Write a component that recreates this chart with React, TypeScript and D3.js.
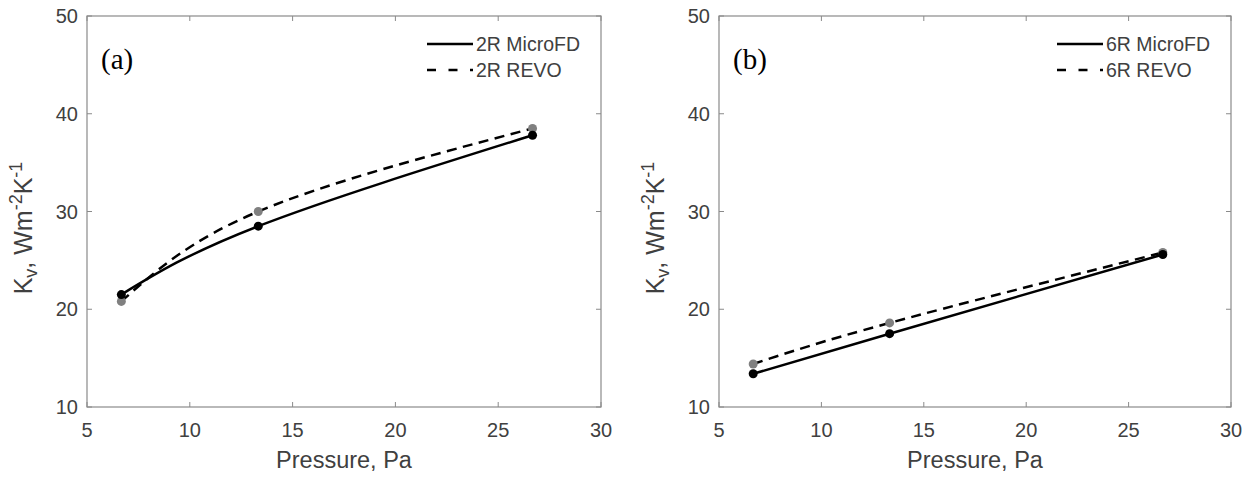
import React from 'react';
import * as d3 from 'd3';

// pressure points (Pa) shared by every series
const pressures = [6.67, 13.33, 26.67];

const microFD2R = [21.5, 28.5, 37.8];
const revo2R = [20.8, 30.0, 38.5];
const microFD6R = [13.4, 17.5, 25.6];
const revo6R = [14.4, 18.6, 25.8];

const xTicks = [5, 10, 15, 20, 25, 30];
const yTicks = [10, 20, 30, 40, 50];

const W = 1254;
const H = 479;
const top = 16;
const bottom = 407;

const textColor = '#404040';
const boxColor = '#8a8a8a';

type PanelProps = {
  left: number;
  right: number;
  tag: string;
  name: string;
  micro: number[];
  revo: number[];
};

const Panel = ({ left, right, tag, name, micro, revo }: PanelProps) => {
  const x = d3.scaleLinear().domain([5, 30]).range([left, right]);
  const y = d3.scaleLinear().domain([10, 50]).range([bottom, top]);

  const line = d3.line<[number, number]>()
    .x(d => x(d[0]))
    .y(d => y(d[1]))
    .curve(d3.curveNatural);

  const microPts = pressures.map((p, i) => [p, micro[i]] as [number, number]);
  const revoPts = pressures.map((p, i) => [p, revo[i]] as [number, number]);

  const legX = right - 174;
  const tick = 5;

  return (
    <g fontFamily="'Liberation Sans', Arial, sans-serif">
      {/* box */}
      <rect x={left} y={top} width={right - left} height={bottom - top}
        fill="white" stroke={boxColor} strokeWidth={1.2} />

      {xTicks.map(t => (
        <g key={'x' + t}>
          <line x1={x(t)} x2={x(t)} y1={bottom} y2={bottom - tick} stroke={boxColor} />
          <line x1={x(t)} x2={x(t)} y1={top} y2={top + tick} stroke={boxColor} />
          <text x={x(t)} y={437} fontSize={20} fill={textColor} textAnchor="middle">{t}</text>
        </g>
      ))}
      {yTicks.map(t => (
        <g key={'y' + t}>
          <line x1={left} x2={left + tick} y1={y(t)} y2={y(t)} stroke={boxColor} />
          <line x1={right} x2={right - tick} y1={y(t)} y2={y(t)} stroke={boxColor} />
          <text x={left - 9} y={y(t)} dy="0.35em" fontSize={20} fill={textColor} textAnchor="end">{t}</text>
        </g>
      ))}

      <text x={(left + right) / 2} y={468} fontSize={23.5} fill={textColor} textAnchor="middle">
        Pressure, Pa
      </text>

      <text transform={`translate(${left - 55},${228}) rotate(-90)`} fontSize={25} fill={textColor} textAnchor="middle">
        K<tspan fontSize={18} dy={5}>v</tspan>
        <tspan dy={-5}>, Wm</tspan>
        <tspan fontSize={18} dy={-10}>-2</tspan>
        <tspan dy={10}>K</tspan>
        <tspan fontSize={18} dy={-10}>-1</tspan>
      </text>

      <text x={left + 14} y={69} fontSize={29} fontFamily="'Liberation Serif', 'Times New Roman', serif" fill="#000">
        {tag}
      </text>

      {/* curves */}
      <path d={line(revoPts) || ''} fill="none" stroke="#000" strokeWidth={2.5} strokeDasharray="10,6.5" />
      <path d={line(microPts) || ''} fill="none" stroke="#000" strokeWidth={2.5} />

      {revoPts.map((d, i) => (
        <circle key={'r' + i} cx={x(d[0])} cy={y(d[1])} r={4.5} fill="#808080" />
      ))}
      {microPts.map((d, i) => (
        <circle key={'m' + i} cx={x(d[0])} cy={y(d[1])} r={4.5} fill="#000" />
      ))}

      {/* legend */}
      <line x1={legX} x2={legX + 46} y1={44} y2={44} stroke="#000" strokeWidth={2.5} />
      <text x={legX + 49} y={44} dy="0.36em" fontSize={19.5} fill={textColor}>{name} MicroFD</text>
      <line x1={legX} x2={legX + 46} y1={70} y2={70} stroke="#000" strokeWidth={2.5} strokeDasharray="9,12.5" />
      <text x={legX + 49} y={70} dy="0.36em" fontSize={19.5} fill={textColor}>{name} REVO</text>
    </g>
  );
};

const App = () => (
  <svg width={W} height={H} style={{ position: 'absolute', left: 0, top: 0, background: 'white' }}>
    <Panel left={87} right={601} tag="(a)" name="2R" micro={microFD2R} revo={revo2R} />
    <Panel left={719} right={1231} tag="(b)" name="6R" micro={microFD6R} revo={revo6R} />
  </svg>
);

export default App;
